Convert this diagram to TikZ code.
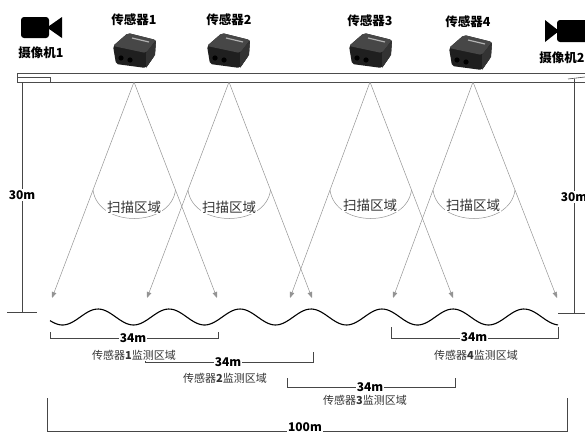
\documentclass[tikz,border=0pt]{standalone}
\usepackage{fontspec}
\setmainfont{Noto Sans CJK SC}
\usepackage{tikz}
\usetikzlibrary{arrows.meta,calc,positioning}

\begin{document}
\begin{tikzpicture}[x=1pt,y=-1pt,
  beam/.style={gray!85, line width=0.5pt, -{Triangle[length=6pt,width=4.5pt]}},
  quota/.style={gray!55!black, line width=0.6pt},
  tag/.style={font=\fontsize{12.5}{13}\selectfont\bfseries, inner sep=0pt},
  zona/.style={font=\fontsize{13.5}{14}\selectfont, text=black!80, fill=white, inner sep=1pt},
  misura/.style={font=\fontsize{12}{13}\selectfont\bfseries, fill=white, inner sep=1pt},
  area/.style={font=\fontsize{11}{12}\selectfont, text=black!80, fill=white, inner sep=0.5pt},
  sensore/.pic={
    \fill[black!88, rounded corners=2pt] (-21,-4) -- (-6,-17) -- (22,-10) -- (21,5) -- (12,18) -- (-18,14) -- cycle;
    \fill[black!72, rounded corners=2pt] (-21,-4) -- (-6,-17) -- (22,-10) -- (12,3) -- cycle;
    \fill[black!80] (12,3) -- (22,-10) -- (21,5) -- (12,18) -- cycle;
    \draw[gray!60, line width=1.2pt] (-2,-12) -- (15,-8);
    \fill[black] (-13,8) circle (2.6pt) (-4,10) circle (2.6pt);
  }]
\useasboundingbox (0,0) rectangle (585,434);

% telecamere
\fill[black, rounded corners=3pt] (21,17) rectangle (49,38);
\fill[black] (47,27.5) -- (62,17) -- (62,38) -- cycle;
\fill[black, rounded corners=3pt] (557,20) rectangle (597,42);
\fill[black] (559,31) -- (545,20) -- (545,42) -- cycle;
\node[tag] (cam1) at (41,53) {摄像机1};
\node[tag] (cam2) at (562,58) {摄像机2};

% sensori
\foreach \n/\x/\y in {1/134/20, 2/229/20, 3/370/21, 4/468/22}
  \node[tag] (lab\n) at (\x,\y) {传感器\n};
\foreach \x/\y in {134/50, 228/50, 370/50, 470/52}
  \pic at (\x,\y) {sensore};

% trave
\draw[black!70, line width=0.7pt] (585,73) -- (17,73) -- (17,82) -- (585,82);
\draw[black!70, line width=0.5pt] (17,77) rectangle (50,82);

% fasci di scansione
\foreach \n/\x/\l/\r/\ty in {1/134/52/217/207, 2/229/147/312/207, 3/370/290/453/205, 4/473/393/557/205}{
  \coordinate (s\n) at (\x,82);
  \coordinate (s\n l) at (\l,298);
  \coordinate (s\n r) at (\r,298);
  \draw[beam] (s\n) -- (s\n l);
  \draw[beam] (s\n) -- (s\n r);
  \draw[gray!85, line width=0.5pt] ($(s\n)!0.5!(s\n l)$) .. controls +(5,38) and +(-5,38) .. ($(s\n)!0.5!(s\n r)$);
  \node[zona] (scan\n) at (\x,\ty) {扫描区域};
}

% superficie
\draw[line width=1.1pt] plot[domain=50:558, samples=220, smooth] (\x, {317-8*cos(5.0704*(\x-98))});

% altezze
\draw[quota] (22,82) -- (22,312);
\draw[quota] (7,312) -- (37,312);
\node[misura] (hl) at (22,195) {30m};
\draw[quota] (574,79) -- (574,313);
\draw[quota] (558,313) -- (585,313);
\draw[quota] (568,79) -- (585,77);
\node[misura] (hr) at (574,197) {30m};

% zone monitorate
\foreach \a/\b/\y/\t in {50/218/338/332, 145/313/362/352, 287/455/387/378, 391/558/338/327}
  \draw[quota] (\a,\t) -- (\a,\y) -- (\b,\y) -- (\b,\t);
\foreach \n/\c/\y/\ax/\ay in {1/133/338/134/355, 2/228/362/225/378, 3/370/387/365/400, 4/474/337/476/355}{
  \node[misura] (m\n) at (\c,\y) {34m};
  \node[area] (z\n) at (\ax,\ay) {传感器\textbf{\n}监测区域};
}
\draw[quota] (47,398) -- (47,431) -- (567,431) -- (567,398);
\node[misura] (tot) at (305,427) {100m};
\end{tikzpicture}
\end{document}
